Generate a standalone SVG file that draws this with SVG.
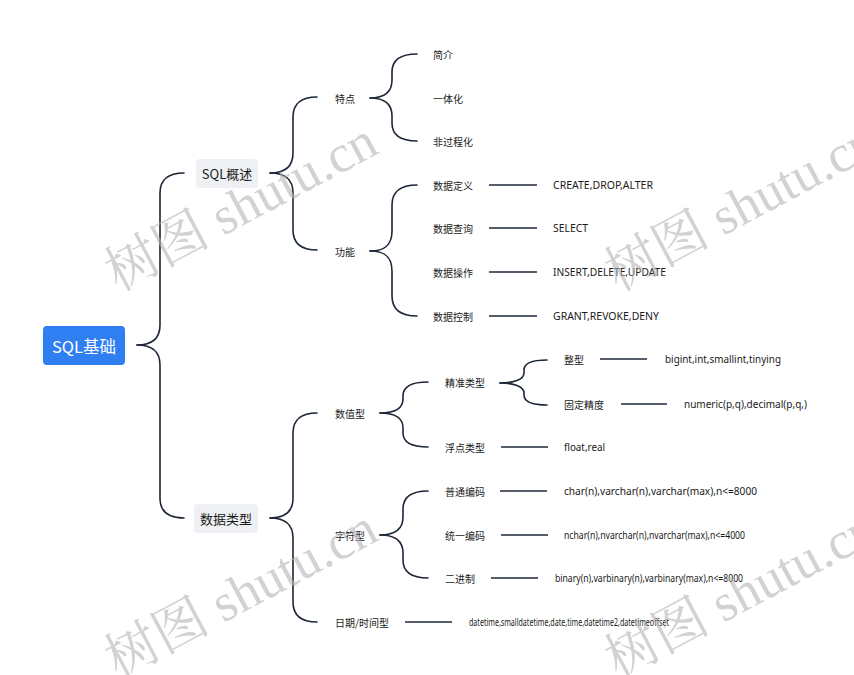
<svg xmlns="http://www.w3.org/2000/svg" width="854" height="675" viewBox="0 0 854 675">
<style>
  .br { fill: none; stroke: #1e2738; stroke-width: 1.6; stroke-linecap: round; }
  .ln { stroke: #1e2738; stroke-width: 1.5; }
  .cn { font-family: "Noto Sans CJK SC", "Noto Sans", sans-serif; font-size: 10px; fill: #1a1a1a; dominant-baseline: central; }
  .lt { font-family: "Noto Sans", "Noto Sans CJK SC", sans-serif; font-size: 10px; fill: #1a1a1a; dominant-baseline: central; }
  .mid { font-family: "Noto Sans CJK SC", "Noto Sans", sans-serif; font-size: 13px; fill: #1a1a1a; dominant-baseline: central; }
  .root { font-family: "Noto Sans CJK SC", "Noto Sans", sans-serif; font-size: 16.5px; fill: #ffffff; dominant-baseline: central; }
  .wm { font-family: "Liberation Serif", "Noto Serif CJK SC", "Noto Sans CJK SC", serif; font-size: 53px; fill: #b4b4b4; fill-opacity: 0.6; }
</style>
<rect width="854" height="675" fill="#ffffff"/>

<g id="connectors">
  <!-- root brace -->
  <path class="br" d="M137,345 C152,345 160,339 160,325 L160,193 C160,180 168,173 184,173"/>
  <path class="br" d="M137,345 C152,345 160,351 160,365 L160,498 C160,511 168,518 184,518"/>
  <!-- SQL概述 brace -->
  <path class="br" d="M270,173 C285,173 293,167 293,153 L293,117 C293,104 301,97 317,97"/>
  <path class="br" d="M270,173 C285,173 293,179 293,193 L293,230 C293,243 301,250 317,250"/>
  <!-- 特点 brace -->
  <path class="br" d="M370,98 C385,98 392,92 392,80 L392,72 C392,60 400,54 417,54"/>
  <path class="br" d="M370,98 C385,98 392,104 392,116 L392,123 C392,135 400,141 417,141"/>
  <!-- 功能 brace -->
  <path class="br" d="M370,251 C385,251 392,245 392,231 L392,205 C392,192 400,185 417,185"/>
  <path class="br" d="M370,251 C385,251 392,257 392,271 L392,296 C392,309 400,316 417,316"/>
  <!-- 数据类型 brace -->
  <path class="br" d="M270,518 C285,518 293,512 293,498 L293,433 C293,420 301,413 317,413"/>
  <path class="br" d="M270,518 C285,518 293,524 293,538 L293,602 C293,615 301,622 317,622"/>
  <!-- 数值型 brace -->
  <path class="br" d="M380,413 C395,413 403,408 403,399 L403,396 C403,387 411,382 428,382"/>
  <path class="br" d="M380,413 C395,413 403,418 403,428 L403,433 C403,442 411,447 428,447"/>
  <!-- 精准类型 brace -->
  <path class="br" d="M500,383 C515,383 524,379 524,373 L524,370 C524,364 531,360 547,360"/>
  <path class="br" d="M500,383 C515,383 524,387 524,393 L524,395 C524,401 531,405 547,405"/>
  <!-- 字符型 brace -->
  <path class="br" d="M380,535 C395,535 403,529 403,517 L403,509 C403,497 411,491 428,491"/>
  <path class="br" d="M380,535 C395,535 403,541 403,553 L403,560 C403,572 411,578 428,578"/>
  <!-- horizontal lines -->
  <line class="ln" x1="489" y1="185" x2="537" y2="185"/>
  <line class="ln" x1="489" y1="228" x2="537" y2="228"/>
  <line class="ln" x1="489" y1="272" x2="537" y2="272"/>
  <line class="ln" x1="489" y1="316" x2="537" y2="316"/>
  <line class="ln" x1="600" y1="359" x2="647" y2="359"/>
  <line class="ln" x1="621" y1="404" x2="667" y2="404"/>
  <line class="ln" x1="501" y1="447" x2="548" y2="447"/>
  <line class="ln" x1="500" y1="491" x2="547" y2="491"/>
  <line class="ln" x1="501" y1="535" x2="548" y2="535"/>
  <line class="ln" x1="491" y1="578" x2="538" y2="578"/>
  <line class="ln" x1="405" y1="622" x2="452" y2="622"/>
</g>

<g id="root">
  <rect x="43" y="326" width="82" height="39" rx="4" fill="#2f7ff2"/>
  <text class="root" x="84" y="345.5" text-anchor="middle">SQL基础</text>
</g>
<g id="sql-overview">
  <rect x="196" y="159" width="62" height="29" rx="4" fill="#eef0f3"/>
  <text class="mid" x="227" y="173.5" text-anchor="middle">SQL概述</text>
</g>
<g id="data-types">
  <rect x="194" y="504" width="64" height="29" rx="4" fill="#eef0f3"/>
  <text class="mid" x="226" y="518.5" text-anchor="middle">数据类型</text>
</g>

<g id="features"><text class="cn" x="335" y="98">特点</text></g>
<g id="intro"><text class="cn" x="433" y="54">简介</text></g>
<g id="unified"><text class="cn" x="433" y="98">一体化</text></g>
<g id="nonproc"><text class="cn" x="433" y="141">非过程化</text></g>

<g id="functions"><text class="cn" x="335" y="251">功能</text></g>
<g id="ddl"><text class="cn" x="433" y="185">数据定义</text></g>
<g id="dql"><text class="cn" x="433" y="228">数据查询</text></g>
<g id="dml"><text class="cn" x="433" y="272">数据操作</text></g>
<g id="dcl"><text class="cn" x="433" y="316">数据控制</text></g>
<g id="ddl-v"><text class="lt" x="553" y="185" textLength="100" lengthAdjust="spacingAndGlyphs">CREATE,DROP,ALTER</text></g>
<g id="dql-v"><text class="lt" x="553" y="228" textLength="35" lengthAdjust="spacingAndGlyphs">SELECT</text></g>
<g id="dml-v"><text class="lt" x="553" y="272" textLength="113" lengthAdjust="spacingAndGlyphs">INSERT,DELETE,UPDATE</text></g>
<g id="dcl-v"><text class="lt" x="553" y="316" textLength="106" lengthAdjust="spacingAndGlyphs">GRANT,REVOKE,DENY</text></g>

<g id="numeric"><text class="cn" x="335" y="413">数值型</text></g>
<g id="exact"><text class="cn" x="445" y="382">精准类型</text></g>
<g id="integer"><text class="cn" x="564" y="359">整型</text></g>
<g id="fixed"><text class="cn" x="564" y="404">固定精度</text></g>
<g id="integer-v"><text class="lt" x="665" y="359" textLength="116" lengthAdjust="spacingAndGlyphs">bigint,int,smallint,tinying</text></g>
<g id="fixed-v"><text class="lt" x="684" y="404" textLength="123" lengthAdjust="spacingAndGlyphs">numeric(p,q),decimal(p,q,)</text></g>
<g id="float"><text class="cn" x="445" y="447">浮点类型</text></g>
<g id="float-v"><text class="lt" x="564" y="447" textLength="41" lengthAdjust="spacingAndGlyphs">float,real</text></g>

<g id="char"><text class="cn" x="335" y="535">字符型</text></g>
<g id="normal"><text class="cn" x="445" y="491">普通编码</text></g>
<g id="unicode"><text class="cn" x="445" y="535">统一编码</text></g>
<g id="binary"><text class="cn" x="445" y="578">二进制</text></g>
<g id="normal-v"><text class="lt" x="564" y="491" textLength="193" lengthAdjust="spacingAndGlyphs">char(n),varchar(n),varchar(max),n&lt;=8000</text></g>
<g id="unicode-v"><text class="lt" x="564" y="535" font-size="8.5" textLength="181" lengthAdjust="spacingAndGlyphs">nchar(n),nvarchar(n),nvarchar(max),n&lt;=4000</text></g>
<g id="binary-v"><text class="lt" x="555" y="578" font-size="8.5" textLength="188" lengthAdjust="spacingAndGlyphs">binary(n),varbinary(n),varbinary(max),n&lt;=8000</text></g>

<g id="datetime"><text class="cn" x="335" y="622">日期/时间型</text></g>
<g id="datetime-v"><text class="lt" x="469" y="622" font-size="7" textLength="200" lengthAdjust="spacingAndGlyphs">datetime,smalldatetime,date,time,datetime2,datetimeoffset</text></g>

<g id="watermark">
  <text class="wm" transform="translate(118,292) rotate(-28)">树图 shutu.cn</text>
  <text class="wm" transform="translate(618,292) rotate(-28)">树图 shutu.cn</text>
  <text class="wm" transform="translate(118,679) rotate(-28)">树图 shutu.cn</text>
  <text class="wm" transform="translate(618,679) rotate(-28)">树图 shutu.cn</text>
</g>
</svg>
